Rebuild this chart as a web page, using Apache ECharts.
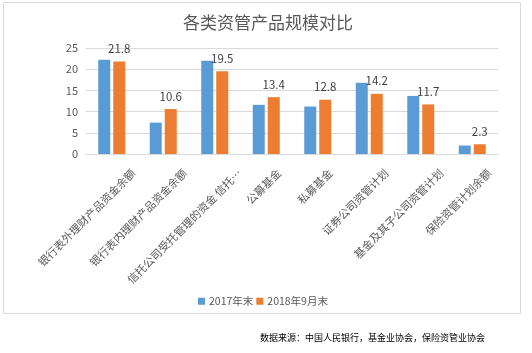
<!DOCTYPE html>
<html>
<head>
<meta charset="utf-8">
<script src="https://cdn.jsdelivr.net/npm/echarts@6/dist/echarts.min.js"></script>
<style>
  html, body { margin: 0; padding: 0; background: #fff; }
  #chart { width: 532px; height: 353px; }
</style>
</head>
<body>
<div id="chart"></div>
<script>
// data
const categories = [
    '银行表外理财产品资金余额',
    '银行表内理财产品资金余额',
    '信托公司受托管理的资金 信托…',
    '公募基金',
    '私募基金',
    '证券公司资管计划',
    '基金及其子公司资管计划',
    '保险资管计划余额'
];
const seriesNames = ['2017年末', '2018年9月末'];
const values2017 = [22.2, 7.4, 22.0, 11.6, 11.2, 16.8, 13.7, 2.0];
const values2018 = [21.8, 10.6, 19.5, 13.4, 12.8, 14.2, 11.7, 2.3];
const yTicks = { min: 0, max: 25, interval: 5 };

const font = "'Noto Sans CJK SC', 'Noto Sans', sans-serif";
const chart = echarts.init(document.getElementById('chart'));

const staticGraphics = [
    {
        type: 'rect',
        shape: { x: 3.5, y: 2.5, width: 517, height: 311 },
        style: { fill: 'none', stroke: '#d9d9d9', lineWidth: 1 },
        z: -1
    },
    {
        type: 'text',
        left: 260,
        top: 333,
        style: {
            text: '数据来源：中国人民银行，基金业协会，保险资管业协会',
            fontFamily: font,
            fontSize: 9,
            fill: '#000'
        }
    }
];

chart.setOption({
    animation: false,
    backgroundColor: '#fff',
    color: ['#5b9bd5', '#ed7d31'],
    title: {
        text: '各类资管产品规模对比',
        left: 178,
        top: 9,
        textStyle: { fontFamily: font, fontSize: 17, fontWeight: 'normal', color: '#595959' }
    },
    legend: {
        data: seriesNames,
        left: 193,
        top: 291,
        itemWidth: 7,
        itemHeight: 7,
        itemGap: 3,
        icon: 'rect',
        textStyle: { fontFamily: font, fontSize: 10.5, color: '#595959', padding: [0, 0, 0, -1] }
    },
    grid: { left: 86, right: 34, top: 48, bottom: 199, containLabel: false },
    xAxis: {
        type: 'category',
        data: categories,
        axisTick: { show: false },
        axisLine: { lineStyle: { color: '#d9d9d9', width: 1 } },
        axisLabel: { show: false }
    },
    yAxis: {
        type: 'value',
        min: yTicks.min,
        max: yTicks.max,
        interval: yTicks.interval,
        axisLine: { show: false },
        axisTick: { show: false },
        splitLine: { lineStyle: { color: '#d9d9d9', width: 1 } },
        axisLabel: { fontFamily: font, fontSize: 11, color: '#595959', margin: 8 }
    },
    series: [
        {
            name: seriesNames[0],
            type: 'bar',
            data: values2017,
            barWidth: 12,
            barGap: '25%'
        },
        {
            name: seriesNames[1],
            type: 'bar',
            data: values2018,
            barWidth: 12,
            label: {
                show: true,
                position: 'top',
                distance: 7,
                fontFamily: font,
                fontSize: 11.5,
                color: '#404040'
            }
        }
    ],
    graphic: staticGraphics
});

// Rotated category labels, Excel style: longer names sit further right of the tick.
// Top-right corner of each label is placed relative to the axis position of its category.
const axisY = chart.convertToPixel({ yAxisIndex: 0 }, 0);
const labelGraphics = categories.map((name, i) => {
    const cx = chart.convertToPixel({ xAxisIndex: 0 }, i);
    return {
        type: 'text',
        x: cx + 4.5 + 1.1 * name.length,
        y: axisY + 13,
        rotation: Math.PI / 4,
        style: {
            text: name,
            x: 0,
            y: 0,
            align: 'right',
            verticalAlign: 'top',
            fontFamily: font,
            fontSize: 11,
            fill: '#595959'
        }
    };
});
chart.setOption({ graphic: staticGraphics.concat(labelGraphics) });
</script>
</body>
</html>
